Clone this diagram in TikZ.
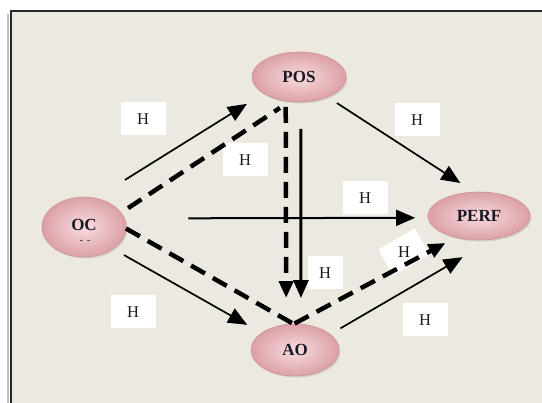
\documentclass[tikz,border=0pt]{standalone}
\usepackage{fontspec}
\usepackage{graphicx}
\setmainfont{Liberation Serif}
\usetikzlibrary{arrows.meta,shapes.geometric,shadows}

\definecolor{bg}{RGB}{236,234,224}
\definecolor{framecol}{RGB}{40,40,40}
\definecolor{pinkin}{RGB}{247,220,222}
\definecolor{pinkout}{RGB}{220,160,168}
\definecolor{pinkedge}{RGB}{205,145,154}
\definecolor{ink}{RGB}{25,25,35}

\begin{document}
\begin{tikzpicture}[x=1pt,y=-1pt,
  var/.style={ellipse, inner sep=0pt, outer sep=0pt, draw=pinkedge, line width=0.6pt,
    inner color=pinkin, outer color=pinkout,
    font=\fontsize{17}{17}\selectfont\bfseries, text=ink,
    drop shadow={shadow xshift=1.5pt, shadow yshift=-1.5pt, opacity=0.2, fill=black!60}},
  hyp/.style={fill=white, inner sep=0pt, minimum width=45pt, minimum height=33pt,
    font=\fontsize{16.5}{16.5}\selectfont, text=ink},
  solidarr/.style={draw=black, line width=1.7pt, -{Triangle[length=19pt,width=16pt]}},
  dashedline/.style={draw=black, line width=4.5pt, dash pattern=on 16pt off 9pt},
  dashtip/.style={-{Triangle[length=17pt,width=14pt]}},
]
\useasboundingbox (0,0) rectangle (542,403);
\clip (0,0) rectangle (542,403);
\fill[white] (0,0) rectangle (542,403);
\draw[black!25, line width=1.5pt] (7.8,14) -- (7.8,420);
\path[fill=bg, draw=framecol, line width=2pt] (11,11) rectangle (560,420);

% variables
\node[var, minimum width=94pt, minimum height=50pt] (pos) at (299,77) {POS};
\node[var, minimum width=84pt, minimum height=60pt] (oc) at (84,227) {\raisebox{4pt}{OC}};
\node[var, minimum width=102pt, minimum height=48pt] (perf) at (479,216) {PERF};
\node[var, minimum width=88pt, minimum height=52pt] (ao) at (295,350) {AO};
\node[font=\fontsize{11}{11}\selectfont\bfseries, text=ink!80, inner sep=0pt] (ocdash) at (85,242) {-\,\,-};

% hypothesis labels
\node[hyp] (h1) at (143,119) {H};
\node[hyp] (h2) at (245,160) {H};
\node[hyp] (h3) at (417,120) {H};
\node[hyp] (h4) at (365,198) {H};
\node[hyp] (h5) at (133,312) {H};
\node[hyp, minimum width=35pt] (h6) at (325,273) {H};
\node[hyp] (h7) at (425,320) {H};
\node[hyp, minimum width=42pt, minimum height=30pt, rotate=30] (h8) at (404,252) {\rotatebox{-30}{H}};

% connectors
\draw[solidarr, shorten <=34.5pt, shorten >=19.7pt] (oc.68) -- (pos.205.2);
\draw[dashedline, shorten <=8.5pt, shorten >=11.6pt] (oc.21.2) -- (pos.249.6);
\draw[dashedline, dashtip, shorten <=6pt, shorten >=26.5pt] (pos.241.6) -- (ao.109.5);
\draw[solidarr, line width=3pt, -{Triangle[length=18pt,width=15pt]}, shorten <=27pt, shorten >=26.2pt] (pos.274.6) -- (ao.77);
\draw[solidarr, line width=2pt, shorten <=64pt, shorten >=13pt] (oc.12.6) -- (perf.182.3);
\draw[solidarr, shorten <=11.3pt, shorten >=16.7pt] (pos.325.2) -- (perf.101.8);
\draw[dashedline, shorten >=1pt] (oc.358.6) -- (ao.93);
\draw[dashedline, dashtip, shorten <=1pt, shorten >=11.8pt] (ao.93) -- (perf.223.8);
\draw[solidarr, shorten <=12.7pt, shorten >=16.6pt] (oc.323.1) -- (ao.153.4);
\draw[solidarr, shorten <=11.9pt, shorten >=36.2pt] (ao.24.8) -- (perf.303.9);
\end{tikzpicture}
\end{document}
